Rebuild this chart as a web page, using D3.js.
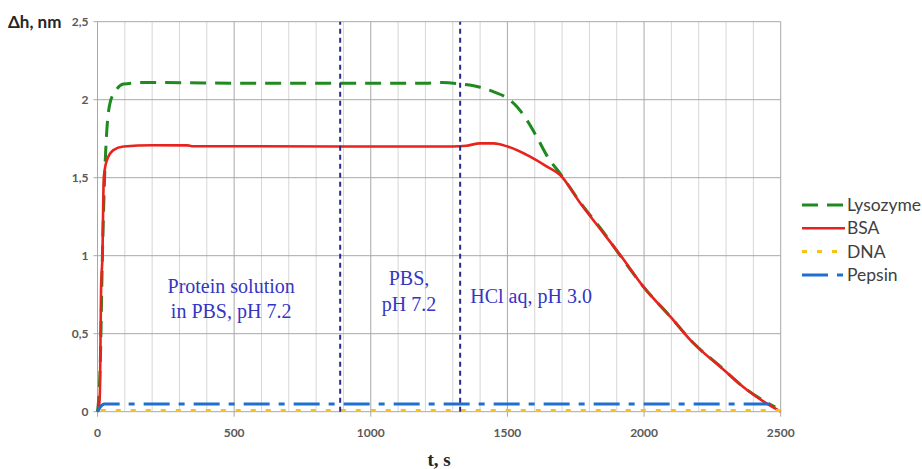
<!DOCTYPE html>
<html>
<head>
<meta charset="utf-8">
<script src="https://cdn.jsdelivr.net/npm/d3@7"></script>
<style>
	body { margin: 0; background: #fff; }
	svg { display: block; }
</style>
</head>
<body>
<div id="chart"></div>
<script>
// series: [t (s), dh (nm)]
var lysozyme = [[0,0],[10,0.3],[18,1.0],[27,1.55],[34,1.8],[46,1.98],[64,2.05],[95,2.1],[170,2.11],
	[600,2.105],[1200,2.105],[1260,2.11],[1330,2.1],[1400,2.08],[1450,2.05],[1500,2.01],[1535,1.955],
	[1571,1.87],[1608,1.76],[1645,1.64],[1700,1.51],[1767,1.34],[1852,1.15],[1913,1.0],[1998,0.8],
	[2096,0.61],[2181,0.44],[2279,0.29],[2377,0.14],[2438,0.07],[2480,0.03]];
var bsa = [[0,0],[6,0.04],[9,0.14],[13,0.78],[18,1.0],[23,1.5],[34,1.61],[58,1.677],[95,1.7],[200,1.708],
	[330,1.707],[345,1.702],[900,1.7],[1300,1.7],[1350,1.705],[1400,1.72],[1450,1.72],[1500,1.7],[1583,1.635],
	[1645,1.571],[1693,1.517],[1767,1.336],[1852,1.143],[1913,1.004],[1998,0.8],[2096,0.609],[2181,0.438],
	[2279,0.288],[2377,0.139],[2438,0.064],[2500,0]];
var dna = [[12,0.007],[2500,0.007]];
var pepsin = [[0,0],[10,0.03],[25,0.05],[2470,0.05]];

var seriesNames = ['Lysozyme', 'BSA', 'DNA', 'Pepsin'];
var xTicks = [0, 500, 1000, 1500, 2000, 2500];
var yTicks = [0, 0.5, 1, 1.5, 2, 2.5];
var yTickLabels = ['0', '0,5', '1', '1,5', '2', '2,5'];
var stageBounds = [888, 1327];
var stageLabels = [
	{ lines: ['Protein solution', 'in PBS, pH 7.2'], t: 489, h: 0.763, anchor: 'middle' },
	{ lines: ['PBS,', 'pH 7.2'], t: 1140, h: 0.809, anchor: 'middle' },
	{ lines: ['HCl aq, pH 3.0'], t: 1364, h: 0.697, anchor: 'start' }
];

var width = 922,
	height = 469,
	margin = { left: 97.5, right: 141.3, top: 21.7, bottom: 57.3 };

var styles = {
	Lysozyme: { color: '#1f8a1f', width: 3, dash: '16,9' },
	BSA: { color: '#e8231d', width: 2.6, dash: null },
	DNA: { color: '#f6c21a', width: 3, dash: '5,10' },
	Pepsin: { color: '#1f6fd0', width: 3, dash: '26,9,6,9' }
};

var x = d3.scaleLinear().domain([0, 2500]).range([margin.left, width - margin.right]);
var y = d3.scaleLinear().domain([0, 2.5]).range([height - margin.bottom, margin.top]);

var svg = d3.select('#chart').append('svg')
	.attr('width', width)
	.attr('height', height);

// minor vertical grid every 100 s
svg.append('g')
	.selectAll('line')
	.data(d3.range(100, 2500, 100).filter(function(d) { return d % 500 !== 0; }))
	.enter().append('line')
	.attr('x1', function(d) { return x(d); })
	.attr('x2', function(d) { return x(d); })
	.attr('y1', y(0))
	.attr('y2', y(2.5))
	.attr('stroke', '#d6d6d6')
	.attr('stroke-width', 1);

// major vertical grid + ticks
svg.append('g')
	.selectAll('line')
	.data(xTicks)
	.enter().append('line')
	.attr('x1', function(d) { return x(d); })
	.attr('x2', function(d) { return x(d); })
	.attr('y1', y(0) + 5)
	.attr('y2', y(2.5))
	.attr('stroke', '#a8a8a8')
	.attr('stroke-width', 1);

// horizontal grid + ticks
svg.append('g')
	.selectAll('line')
	.data(yTicks)
	.enter().append('line')
	.attr('x1', x(0) - 4)
	.attr('x2', x(2500))
	.attr('y1', function(d) { return y(d); })
	.attr('y2', function(d) { return y(d); })
	.attr('stroke', '#a8a8a8')
	.attr('stroke-width', 1);

svg.append('g')
	.selectAll('text')
	.data(yTicks)
	.enter().append('text')
	.attr('x', x(0) - 9)
	.attr('y', function(d) { return y(d) + 4; })
	.attr('text-anchor', 'end')
	.style('font-family', 'Lato, sans-serif')
	.style('font-size', '12px')
	.style('font-weight', 'bold')
	.style('fill', '#595959')
	.text(function(d, i) { return yTickLabels[i]; });

svg.append('g')
	.selectAll('text')
	.data(xTicks)
	.enter().append('text')
	.attr('x', function(d) { return x(d); })
	.attr('y', y(0) + 25)
	.attr('text-anchor', 'middle')
	.style('font-family', 'Lato, sans-serif')
	.style('font-size', '12px')
	.style('font-weight', 'bold')
	.style('fill', '#595959')
	.text(function(d) { return d; });

// axis titles
svg.append('text')
	.attr('x', 8)
	.attr('y', 28)
	.style('font-family', 'Lato, sans-serif')
	.style('font-size', '17px')
	.style('font-weight', 'bold')
	.style('fill', '#262626')
	.text('Δh, nm');

svg.append('text')
	.attr('x', x(1250))
	.attr('y', 466)
	.attr('text-anchor', 'middle')
	.style('font-family', '"Liberation Serif", serif')
	.style('font-size', '19px')
	.style('font-weight', 'bold')
	.style('fill', '#262626')
	.text('t, s');

// curves
var line = d3.line()
	.x(function(d) { return x(d[0]); })
	.y(function(d) { return y(d[1]); })
	.curve(d3.curveMonotoneX);

var seriesData = { Lysozyme: lysozyme, BSA: bsa, DNA: dna, Pepsin: pepsin };

seriesNames.forEach(function(name) {
	var s = styles[name];
	svg.append('path')
		.datum(seriesData[name])
		.attr('d', line)
		.attr('fill', 'none')
		.attr('stroke', s.color)
		.attr('stroke-width', s.width)
		.attr('stroke-dasharray', s.dash)
		.attr('stroke-linejoin', 'round');
});

// stage boundaries
svg.append('g')
	.selectAll('line')
	.data(stageBounds)
	.enter().append('line')
	.attr('x1', function(d) { return x(d); })
	.attr('x2', function(d) { return x(d); })
	.attr('y1', y(0))
	.attr('y2', y(2.5))
	.attr('stroke', '#2a2a8a')
	.attr('stroke-width', 2)
	.attr('stroke-dasharray', '5,4');

// stage labels
var labels = svg.append('g')
	.selectAll('text')
	.data(stageLabels)
	.enter().append('text')
	.attr('x', function(d) { return x(d.t); })
	.attr('y', function(d) { return y(d.h); })
	.attr('text-anchor', function(d) { return d.anchor; })
	.style('font-family', '"Liberation Serif", "Times New Roman", serif')
	.style('font-size', '20px')
	.style('fill', '#3535c4');

labels.selectAll('tspan')
	.data(function(d) { return d.lines.map(function(l) { return { text: l, t: d.t }; }); })
	.enter().append('tspan')
	.attr('x', function(d) { return x(d.t); })
	.attr('dy', function(d, i) { return i === 0 ? 0 : 25.5; })
	.text(function(d) { return d.text; });

// legend
var legend = svg.append('g')
	.selectAll('g')
	.data(seriesNames)
	.enter().append('g')
	.attr('transform', function(d, i) { return 'translate(802,' + (205 + i * 23.3) + ')'; });

legend.append('line')
	.attr('x1', 0)
	.attr('x2', 43)
	.attr('stroke', function(d) { return styles[d].color; })
	.attr('stroke-width', function(d) { return styles[d].width; })
	.attr('stroke-dasharray', function(d) { return styles[d].dash; });

legend.append('text')
	.attr('x', 45)
	.attr('y', 6)
	.style('font-family', 'Lato, sans-serif')
	.style('font-size', '17.5px')
	.style('fill', '#404040')
	.text(function(d) { return d; });
</script>
</body>
</html>
